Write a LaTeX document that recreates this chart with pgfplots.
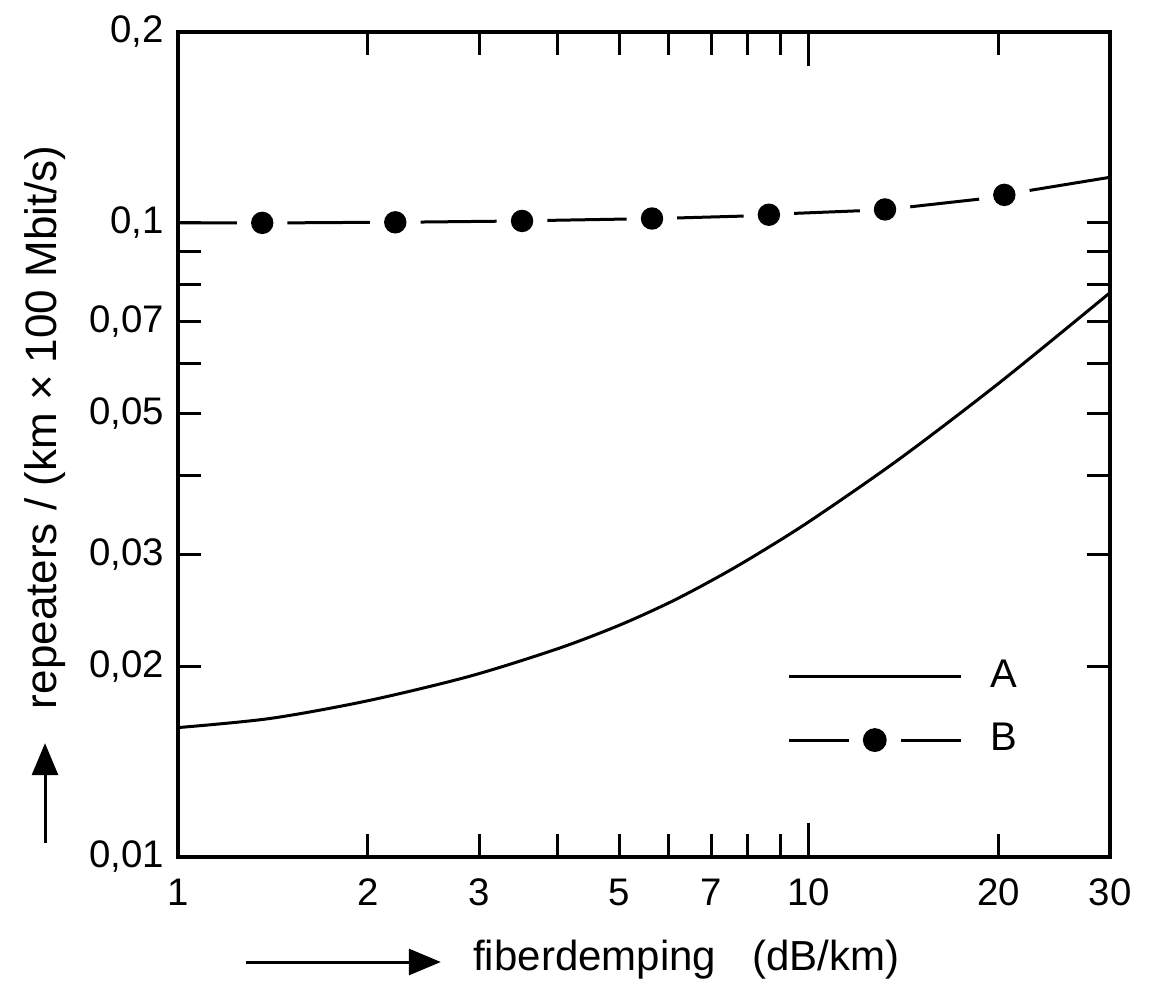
\documentclass[border=0pt]{standalone}
\usepackage{fontspec}
\setmainfont{Liberation Sans}
\usepackage{pgfplots}
\pgfplotsset{compat=1.18}
\usetikzlibrary{arrows.meta}
\begin{document}
\begin{tikzpicture}
\begin{axis}[
  xmode=log, ymode=log,
  scale only axis, width=233pt, height=206.25pt,
  xmin=1, xmax=30, ymin=0.01, ymax=0.2,
  clip=false,
  axis line style={line width=0.8pt},
  every tick/.style={black, line width=0.75pt},
  xminorticks=false, yminorticks=false,
  xtick={1,2,3,4,5,6,7,8,9,20,30},
  xticklabels={1,2,3,,5,,7,,,20,30},
  extra x ticks={10}, extra x tick labels={10},
  extra x tick style={major tick length=8.5pt},
  ytick={0.01,0.02,0.03,0.04,0.05,0.06,0.07,0.08,0.09,0.1,0.2},
  yticklabels={{0,01},{0,02},{0,03},,{0,05},,{0,07},,,{0,1},{0,2}},
  major tick length=5.8pt,
  tick label style={font=\fontsize{9.6}{11}\selectfont},
  xticklabel style={yshift=-2pt},
  unbounded coords=jump,
  legend style={draw=none, fill=none, at={(rel axis cs:0.640,0.180)}, anchor=west,
    nodes={inner sep=0pt, font=\fontsize{10}{12}\selectfont}, row sep=7.4pt,
    /tikz/every odd column/.append style={column sep=7pt}},
  legend cell align=left,
]
% curve A
\addplot[black, line width=0.75pt, smooth,
  legend image code/.code={\draw[line width=0.75pt] (0pt,0pt) -- (43pt,0pt);}]
  coordinates {
  (1,0.01600) (1.4,0.01654) (2,0.01764) (2.9,0.01928) (4,0.02131) (5,0.02319)
  (6.02,0.02521) (7,0.02727) (8.06,0.02955) (10,0.03379) (13.9,0.04241)
  (20.1,0.05610) (30,0.07762)
  };
\addlegendentry{A}
% curve B (dashes between dots)
\addplot[black, line width=0.75pt,
  legend image code/.code={\draw[line width=0.75pt] (0pt,0pt) -- (15pt,0pt);
     \fill (21.5pt,0pt) circle (2.6pt);
     \draw[line width=0.75pt] (28pt,0pt) -- (43pt,0pt);}]
  coordinates {
  (1,0.1000) (1.24,0.1000) (1.24,nan)
  (1.49,0.1000) (2.015,0.1002) (2.015,nan)
  (2.423,0.1003) (3.20,0.1006) (3.20,nan)
  (3.85,0.1009) (5.14,0.1014) (5.14,nan)
  (6.18,0.1018) (7.88,0.1025) (7.88,nan)
  (9.47,0.1035) (12.04,0.1045) (12.04,nan)
  (14.47,0.1060) (18.61,0.1090) (18.61,nan)
  (22.37,0.1125) (30,0.118)
  };
\addlegendentry{B}
\addplot[only marks, mark=*, mark size=2.6pt, black, forget plot]
  coordinates {
  (1.36,0.1000) (2.21,0.1002) (3.51,0.1007) (5.64,0.1016) (8.64,0.1030) (13.2,0.1050) (20.4,0.1107)
  };
% axis labels with arrows
\node[rotate=90, anchor=base, font=\fontsize{11}{13}\selectfont]
  at ([xshift=-30.5pt]rel axis cs:0,0.521) {repeaters / (km × 100 Mbit/s)};
\draw[line width=0.75pt, -{Triangle[length=8pt,width=6.5pt]}]
  ([xshift=-33.25pt]rel axis cs:0,0.017) -- ([xshift=-33.25pt]rel axis cs:0,0.138);
\draw[line width=0.75pt, -{Triangle[length=8pt,width=6.5pt]}]
  ([yshift=-26.25pt]rel axis cs:0.073,0) -- ([yshift=-26.25pt]rel axis cs:0.282,0);
\node[anchor=base west, inner sep=0pt, font=\fontsize{10.5}{12}\selectfont]
  at ([yshift=-28.25pt]rel axis cs:0.316,0) {fiberdemping\hspace{9pt}(dB/km)};
% page extent
\path (rel axis cs:-0.19099,-0.15273) rectangle (rel axis cs:1.0515,1.03879);
\end{axis}
\end{tikzpicture}
\end{document}
